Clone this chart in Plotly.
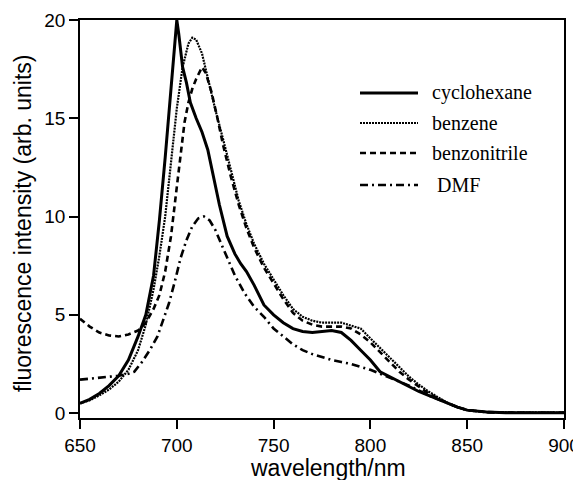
import plotly.graph_objects as go

# ---- data ----
cyc_x = [650, 655, 660, 665, 670, 675, 680, 684, 688, 691, 694, 697, 699, 700, 701, 703, 705, 707, 710, 713,
         716, 719, 722, 726, 730, 733, 736, 740, 745, 750, 755, 760, 765, 770, 775, 780, 785, 790, 795, 800,
         805, 810, 815, 820, 825, 830, 835, 840, 845, 850, 860, 870, 880, 890, 900]
cyc_y = [0.5, 0.7, 1.0, 1.4, 1.9, 2.7, 3.9, 5.0, 7.0, 9.8, 13.0, 16.5, 19.0, 20.0, 19.3, 17.6, 16.8, 15.8, 15.0, 14.3,
         13.4, 12.0, 10.6, 9.0, 8.1, 7.6, 7.2, 6.5, 5.5, 5.0, 4.6, 4.3, 4.15, 4.1, 4.15, 4.2, 4.1, 3.7, 3.2, 2.7,
         2.1, 1.85, 1.6, 1.35, 1.1, 0.9, 0.7, 0.5, 0.3, 0.15, 0.05, 0.02, 0.02, 0.02, 0.02]

ben_x = [650, 655, 660, 665, 670, 675, 680, 684, 688, 691, 694, 697, 700, 703, 706, 708, 710, 713, 716, 720,
         724, 728, 732, 736, 740, 745, 750, 755, 760, 765, 770, 775, 780, 785, 790, 795, 800, 805, 810, 815,
         820, 825, 830, 835, 840, 845, 850, 860, 870, 880, 890, 900]
ben_y = [0.5, 0.65, 0.9, 1.2, 1.6, 2.2, 3.2, 4.5, 6.3, 8.0, 10.0, 12.8, 15.5, 17.6, 18.8, 19.1, 19.0, 18.3, 17.0, 15.4,
         13.9, 12.3, 10.8, 9.6, 8.6, 7.6, 6.8, 6.0, 5.3, 4.9, 4.7, 4.6, 4.6, 4.6, 4.45, 4.3, 3.8, 3.3, 2.8, 2.3,
         1.85, 1.45, 1.1, 0.8, 0.5, 0.3, 0.15, 0.05, 0.02, 0.02, 0.02, 0.02]

bzn_x = [650, 655, 660, 665, 670, 675, 680, 684, 688, 691, 694, 697, 700, 702, 704, 706, 708, 710, 712, 713,
         715, 718, 721, 724, 728, 732, 736, 740, 745, 750, 755, 760, 765, 770, 775, 780, 785, 790, 795, 800,
         805, 810, 815, 820, 825, 830, 835, 840, 845, 850, 860, 870, 880, 890, 900]
bzn_y = [4.8, 4.4, 4.1, 3.95, 3.9, 4.0, 4.2, 4.6, 5.3, 6.0, 7.2, 9.0, 11.5, 13.3, 14.8, 15.8, 16.5, 17.0, 17.4, 17.6,
         17.3, 16.3, 15.0, 13.6, 12.0, 10.6, 9.4, 8.4, 7.4, 6.6, 5.8, 5.1, 4.7, 4.5, 4.4, 4.4, 4.4, 4.3, 4.0, 3.6,
         3.1, 2.6, 2.1, 1.7, 1.35, 1.0, 0.75, 0.5, 0.3, 0.15, 0.05, 0.02, 0.02, 0.02, 0.02]

dmf_x = [650, 655, 660, 665, 670, 675, 678, 682, 686, 690, 693, 696, 699, 702, 705, 708, 711, 714, 717, 720,
         723, 726, 730, 735, 740, 745, 750, 755, 760, 765, 770, 775, 780, 785, 790, 795, 800, 805, 810, 815,
         820, 825, 830, 835, 840, 845, 850, 860, 870, 880, 890, 900]
dmf_y = [1.7, 1.75, 1.8, 1.85, 1.9, 2.0, 2.1, 2.6, 3.2, 3.9, 4.7, 5.6, 6.7, 7.9, 8.8, 9.5, 9.9, 10.0, 9.8, 9.3,
         8.6, 7.9, 7.0, 6.1, 5.4, 4.9, 4.3, 3.9, 3.5, 3.2, 3.0, 2.85, 2.7, 2.6, 2.5, 2.35, 2.2, 2.0, 1.8, 1.6,
         1.4, 1.15, 0.9, 0.7, 0.5, 0.3, 0.15, 0.05, 0.02, 0.02, 0.02, 0.02]

series_names = ["cyclohexane", "benzene", "benzonitrile", "DMF"]
legend_labels = ["cyclohexane", "benzene", "benzonitrile", " DMF"]
x_ticks = [650, 700, 750, 800, 850, 900]
y_ticks = [0, 5, 10, 15, 20]
x_title = "wavelength/nm"
y_title = "fluorescence intensity (arb. units)"

# ---- styles ----
styles = [
    dict(dash="solid", width=3),
    dict(dash="2px,1px", width=2.2),
    dict(dash="6px,4px", width=2.6),
    dict(dash="8px,4px,2px,4px", width=2.6),
]
data = [(cyc_x, cyc_y), (ben_x, ben_y), (bzn_x, bzn_y), (dmf_x, dmf_y)]

fig = go.Figure()
for (xs, ys), name, st in zip(data, series_names, styles):
    fig.add_trace(go.Scatter(x=xs, y=ys, mode="lines", name=name,
                             line=dict(color="black", width=st["width"], dash=st["dash"]),
                             showlegend=False))

# page has an 8px body margin -> figure is 573x472, offsets measured in page pixels
OFF = 8
FW, FH = 581 - OFF, 480 - OFF
L, T, W, H = 80, 20, 484, 398   # plot area in page pixels


def px(xpage):
    return (xpage - L) / W


def py(ypage):
    return (T + H - ypage) / H


# manual legend (swatches + labels) in paper coordinates
leg_rows_px = [93, 123, 153, 185]
for lbl, st, yrow in zip(legend_labels, styles, leg_rows_px):
    fig.add_shape(type="line", xref="paper", yref="paper",
                  x0=px(360), x1=px(418), y0=py(yrow), y1=py(yrow),
                  line=dict(color="black", width=st["width"], dash=st["dash"]))
    fig.add_annotation(xref="paper", yref="paper", x=px(430), y=py(yrow),
                       text=lbl, showarrow=False, xanchor="left", yanchor="middle",
                       font=dict(family="Liberation Serif", size=20, color="black"))

# axis titles as annotations for exact placement
fig.add_annotation(xref="paper", yref="paper", x=px(328), y=py(468),
                   text=x_title, showarrow=False, xanchor="center", yanchor="middle",
                   font=dict(family="Liberation Sans", size=23, color="black"))
fig.add_annotation(xref="paper", yref="paper", x=px(23), y=py(223),
                   text=y_title, showarrow=False, xanchor="center", yanchor="middle",
                   textangle=-90,
                   font=dict(family="Liberation Sans", size=23, color="black"))

axis_common = dict(showline=True, linecolor="black", linewidth=1.5, mirror=True,
                   ticks="outside", ticklen=9, tickwidth=1.5, tickcolor="black",
                   showgrid=False, zeroline=False, automargin=False,
                   tickfont=dict(family="Liberation Sans", size=19, color="black"))

fig.update_layout(
    width=FW, height=FH,
    margin=dict(l=L - OFF, r=FW - (L - OFF) - W, t=T - OFF, b=FH - (T - OFF) - H, autoexpand=False),
    plot_bgcolor="white", paper_bgcolor="white",
    xaxis=dict(range=[650, 900], tickvals=x_ticks, **axis_common),
    yaxis=dict(range=[-0.25, 20], tickvals=y_ticks, **axis_common),
)

fig.write_html("out.html")
